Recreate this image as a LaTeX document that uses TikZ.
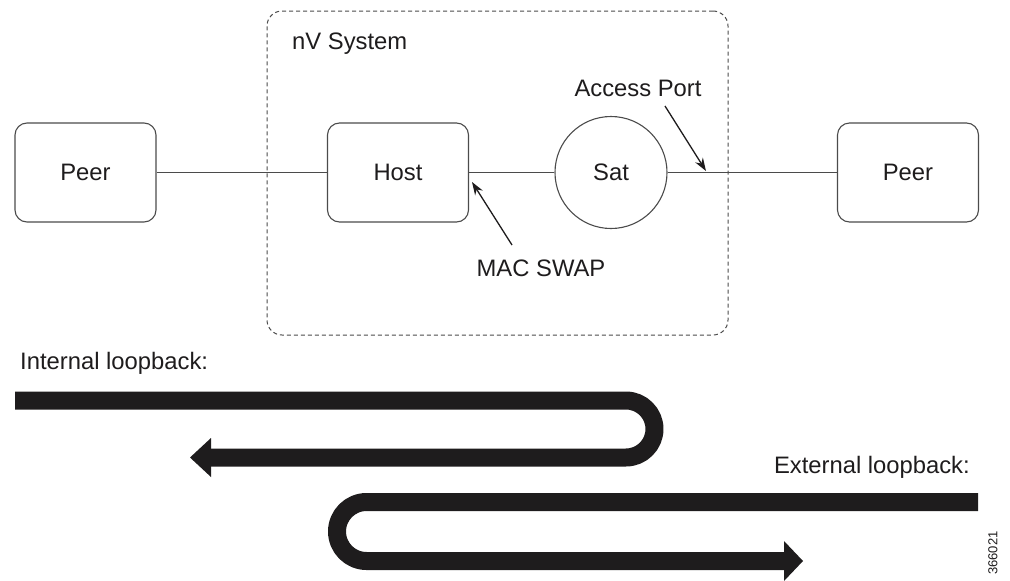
\documentclass[tikz,border=0pt]{standalone}
\usepackage{fontspec}
\setmainfont{Liberation Sans}
\usetikzlibrary{arrows.meta}
\definecolor{ink}{RGB}{30,28,29}
\definecolor{edge}{RGB}{75,75,75}
\begin{document}
\begin{tikzpicture}[x=1pt,y=-1pt,
  lbl/.style={font=\fontsize{23.8}{28}\selectfont, text=ink, inner sep=0pt},
  box/.style={lbl, draw=edge, line width=1.1pt, rounded corners=12pt, minimum width=141pt, minimum height=99pt},
  satnode/.style={lbl, draw=edge, line width=1.1pt, circle, minimum size=112pt},
  sysbox/.style={draw=edge, line width=1pt, dash pattern=on 4pt off 3pt, rounded corners=15pt, minimum width=461pt, minimum height=324pt, inner sep=0pt},
  wire/.style={draw=edge, line width=1.1pt},
  pointer/.style={draw=ink, line width=1.3pt, -{Stealth[length=13pt,width=9pt]}},
  band/.style={draw=ink, line width=18pt, line cap=butt, line join=round},
  bandhead/.style={fill=ink},
]
\useasboundingbox (0,0) rectangle (1010,581);

% nV system frame
\node[sysbox] (sys) at (497.5,173) {};
\node[lbl, anchor=west] (systxt) at (292,44) {nV System};

% nodes
\node[box] (peerL) at (85.5,172.5) {Peer};
\node[box] (host) at (398,172.5) {Host};
\node[satnode] (sat) at (611,172.5) {Sat};
\node[box] (peerR) at (908,172.5) {Peer};

% wires
\draw[wire] (peerL) -- (host);
\draw[wire] (host) -- (sat);
\draw[wire] (sat) -- (peerR);

% labels with pointers
\node[lbl] (aptxt) at (638,88) {Access Port};
\coordinate (apfrom) at (665,106);
\coordinate (apto) at (706,171);
\draw[pointer] (apfrom) -- (apto);

\node[lbl] (mactxt) at (541,268) {MAC SWAP};
\coordinate (macfrom) at (512,245);
\coordinate (macto) at (472,182);
\draw[pointer] (macfrom) -- (macto);

% internal loopback
\node[lbl, anchor=west] (inttxt) at (20,363) {Internal loopback:};
\draw[band, rounded corners=28.5pt] (15,400.5) -- (654.5,400.5) -- (654.5,457.5) -- (209,457.5);
\fill[bandhead] (190,457.5) -- (211,438) -- (211,477) -- cycle;

% external loopback
\node[lbl, anchor=east] (exttxt) at (970,467) {External loopback:};
\draw[band, rounded corners=29.5pt] (978,502) -- (337,502) -- (337,561) -- (786,561);
\fill[bandhead] (803,561) -- (784,541) -- (784,581) -- cycle;

% figure number
\node[rotate=90, font=\fontsize{13}{15}\selectfont, text=ink, inner sep=0pt] (fignum) at (993,553) {366021};
\end{tikzpicture}
\end{document}
